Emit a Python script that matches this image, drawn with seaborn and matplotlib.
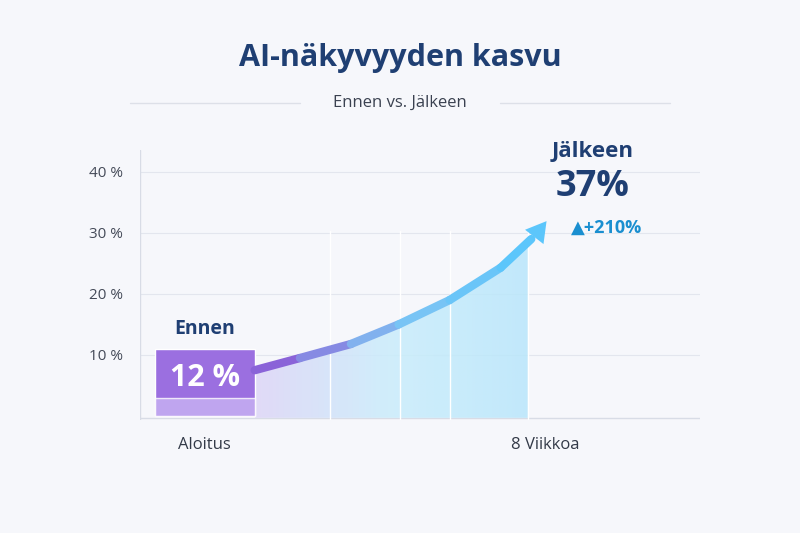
import numpy as np
import matplotlib.pyplot as plt
import seaborn as sns
from matplotlib.collections import LineCollection
from matplotlib.colors import LinearSegmentedColormap

sns.set_theme(style="white")
plt.rcParams['font.family'] = ['Open Sans', 'DejaVu Sans']

# data
categories = ["Aloitus", "8 Viikkoa"]
before_value = 12
after_value = 37
growth_label = "+210%"
yticks = [10, 20, 30, 40]
curve_x = [0.147, 0.28, 0.43, 0.57, 0.72, 0.87, 0.96]
curve_y = [7.5, 9.5, 11.8, 15, 19, 24.3, 29]

navy = "#1f3f73"
fig = plt.figure(figsize=(8, 5.33), dpi=100)
fig.patch.set_facecolor("#f6f7fb")
ax = fig.add_axes([140 / 800, 113 / 533, 560 / 800, 270 / 533])
ax.set_facecolor("#f6f7fb")
ax.set_xlim(-0.19, 1.456)
ax.set_ylim(-0.66, 43.6)

for y in yticks:
    ax.axhline(y, color="#e3e6ee", lw=0.8, zorder=0)
ax.axhline(-0.3, color="#d8dce6", lw=1, zorder=0)
for xv in [0.368, 0.574, 0.72, 0.95]:
    ax.axvline(xv, ymax=0.7, color="#ffffff", lw=1, zorder=2)
ax.axvline(-0.19, color="#d8dce6", lw=1)
for s in ax.spines.values():
    s.set_visible(False)

ax.set_yticks(yticks)
ax.set_yticklabels([f"{v} %" for v in yticks], color="#444a58", fontsize=11)
ax.set_xticks([0, 1])
ax.set_xticklabels(categories, color="#333a48", fontsize=12)
ax.tick_params(length=0, pad=12)

# gradient area under curve
xs = np.array(curve_x)
ys = np.array(curve_y)
grad = np.linspace(0, 1, 256).reshape(1, -1)
cmap = LinearSegmentedColormap.from_list("g", ["#ddd5f7", "#c9edfb", "#b8e6fb"])
poly = ax.fill_between(np.append(xs, 0.95), -0.3, np.append(ys, 29), color="none")
im = ax.imshow(grad, extent=[xs[0], xs[-1], -0.3, 31], aspect="auto",
               cmap=cmap, alpha=0.85, zorder=1)
im.set_clip_path(poly.get_paths()[0], transform=ax.transData)

# bar
ax.bar(0, before_value - 1, width=0.294, bottom=0, color="#9b6fe0", zorder=3)
ax.bar(0, 3, width=0.294, bottom=0, color="#c9b3f3", zorder=3, alpha=0.8)

# gradient arrow line
pts = np.array([xs, ys]).T.reshape(-1, 1, 2)
segs = np.concatenate([pts[:-1], pts[1:]], axis=1)
lc = LineCollection(segs, cmap=LinearSegmentedColormap.from_list(
    "a", ["#8a63d8", "#7fc4f4", "#5cc6fb"]), linewidth=6, zorder=4,
    capstyle="round", joinstyle="round")
lc.set_array(np.linspace(0, 1, len(segs)))
ax.add_collection(lc)
ax.annotate("", xy=(xs[-1] + 0.05, ys[-1] + 3.3), xytext=(xs[-1] - 0.01, ys[-1] - 1),
            arrowprops=dict(arrowstyle="-|>,head_width=0.7,head_length=1.2",
                            color="#5cc6fb", lw=0), zorder=5)

# labels
ax.text(0, before_value + 2.3, "Ennen", ha="center", va="center",
        fontsize=14, fontweight="bold", color=navy)
ax.text(0, 6.3, f"{before_value} %", ha="center", va="center",
        fontsize=22, fontweight="bold", color="white", zorder=6)
ax.text(1.14, 43.3, "Jälkeen", ha="center", va="center", fontsize=16,
        fontweight="bold", color=navy, clip_on=False)
ax.text(1.14, 37.5, f"{after_value}%", ha="center", va="center", fontsize=26,
        fontweight="bold", color=navy)
ax.text(1.18, 30.8, "▲" + growth_label, ha="center", va="center", fontsize=13,
        fontweight="bold", color="#1a8fd0")

fig.text(0.5, 1 - 58 / 533, "AI-näkyvyyden kasvu", ha="center", va="center",
         fontsize=22, fontweight="bold", color=navy)
fig.text(0.5, 1 - 103 / 533, "Ennen vs. Jälkeen", ha="center", va="center",
         fontsize=12, color="#3a4150")
for x0, x1 in [(130, 300), (500, 670)]:
    fig.add_artist(plt.Line2D([x0 / 800, x1 / 800], [1 - 103 / 533] * 2,
                              color="#dde0e8", lw=1))

fig.savefig("out.png", dpi=100, facecolor=fig.get_facecolor())
